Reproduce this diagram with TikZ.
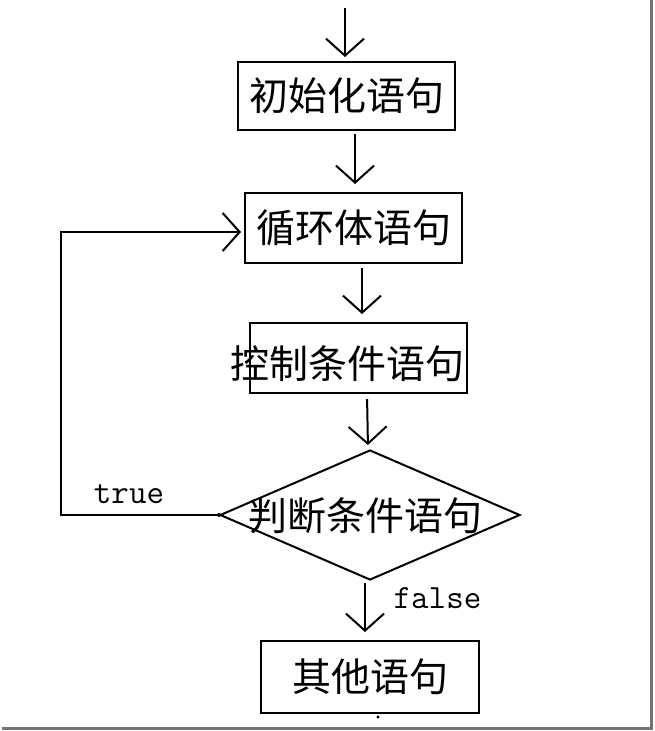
\documentclass[tikz,border=0pt]{standalone}
\usepackage{fontspec}
\newfontfamily\cjk{Noto Sans CJK SC}
\usetikzlibrary{arrows.meta,shapes.geometric}
\begin{document}
\begin{tikzpicture}[x=1pt,y=-1pt,
  line width=2pt,
  box/.style={draw, rectangle, inner sep=0pt},
  cjktext/.style={font=\cjk\fontsize{39}{39}\selectfont, inner sep=0pt},
  lbl/.style={font=\ttfamily\fontsize{34}{34}\selectfont, inner sep=0pt},
  arr/.style={-{Straight Barb[length=17pt,width=38pt,line width=2pt]}},
]
\useasboundingbox (0,0) rectangle (655,731);
\fill[white] (0,0) rectangle (655,731);
% frame shadow
\draw[gray!90!black, line width=3pt] (2,728) -- (651,728) -- (651,0);

% nodes
\node[box, minimum width=217pt, minimum height=68pt, cjktext] (init) at (346.5,96) {初始化语句};
\node[box, minimum width=217pt, minimum height=70pt, cjktext] (loop) at (353.5,228) {循环体语句};
\node[box, minimum width=217pt, minimum height=70pt] (ctrl) at (358.5,358) {};
\node[cjktext] (ctrltext) at (347,364) {控制条件语句};
\node[draw, diamond, inner sep=0pt, minimum width=300pt, minimum height=130pt] (judge) at (370,515) {};
\node[cjktext] (judgetext) at (365,516) {判断条件语句};
\node[box, minimum width=218pt, minimum height=72pt, cjktext] (other) at (370,677) {其他语句};

\coordinate (start) at (345,8);
\coordinate (corner) at (61,515);

% connectors
\draw[arr, shorten >=4pt] (start) -- ([xshift=-1.5pt]init.north);
\draw[arr, shorten <=3pt, shorten >=8pt] ([xshift=8.5pt]init.south) -- ([xshift=1.5pt]loop.north);
\draw[arr, shorten <=4pt, shorten >=8pt] ([xshift=8.5pt]loop.south) -- ([xshift=3.5pt]ctrl.north);
\draw[arr, shorten <=5pt, shorten >=4pt] ([xshift=8.5pt]ctrl.south) -- ([xshift=-2pt]judge.north);
\draw[arr, shorten <=2pt, shorten >=8pt] ([xshift=-5pt]judge.south) -- ([xshift=-5pt]other.north);
\draw[arr, shorten >=3pt] (judge.west) -- (corner) |- ([yshift=-4pt]loop.west);
\fill (judge.west) circle (2pt);

% labels
\node[lbl, anchor=base] at (129,503) {true};
\node[lbl, anchor=base] at (437.5,608) {false};
\fill (378,717) circle (1.6pt);
\end{tikzpicture}
\end{document}
